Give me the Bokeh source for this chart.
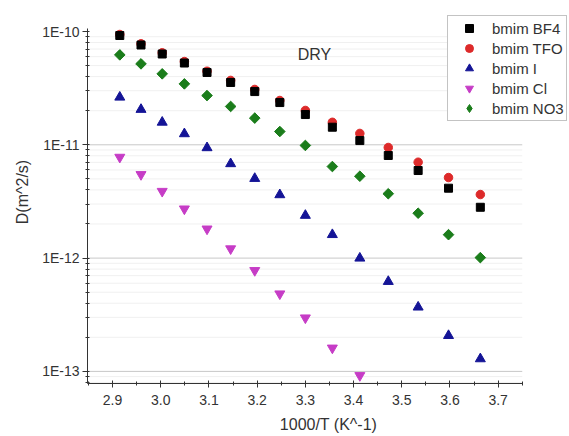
import math
from bokeh.plotting import figure
from bokeh.models import (Range1d, FixedTicker, CustomJSTickFormatter, Legend,
                          LegendItem, Label, PrintfTickFormatter)
from bokeh.embed import file_html
from bokeh.resources import INLINE

# ---- data ----
inv_t = [2.915, 2.959, 3.003, 3.049, 3.096, 3.145, 3.195, 3.247,
         3.300, 3.356, 3.413, 3.472, 3.534, 3.597, 3.663]
inv_t_cl = [2.915, 2.959, 3.003, 3.049, 3.096, 3.145, 3.195, 3.247,
            3.300, 3.356, 3.413]

d_bf4 = [9.22e-11, 7.60e-11, 6.33e-11, 5.27e-11, 4.35e-11, 3.55e-11, 2.95e-11,
         2.36e-11, 1.85e-11, 1.43e-11, 1.09e-11, 8.05e-12, 5.93e-12, 4.14e-12,
         2.81e-12]
d_tfo = [9.41e-11, 7.79e-11, 6.49e-11, 5.43e-11, 4.46e-11, 3.70e-11, 3.08e-11,
         2.46e-11, 2.01e-11, 1.58e-11, 1.26e-11, 9.47e-12, 7.02e-12, 5.14e-12,
         3.64e-12]
d_i = [2.63e-11, 2.05e-11, 1.58e-11, 1.25e-11, 9.41e-12, 6.80e-12, 5.04e-12,
       3.62e-12, 2.38e-12, 1.61e-12, 9.98e-13, 6.21e-13, 3.69e-13, 2.07e-13,
       1.29e-13]
d_cl = [7.78e-12, 5.47e-12, 3.89e-12, 2.72e-12, 1.81e-12, 1.21e-12, 7.78e-13,
        4.84e-13, 2.97e-13, 1.61e-13, 9.20e-14]
d_no3 = [6.22e-11, 5.18e-11, 4.23e-11, 3.45e-11, 2.72e-11, 2.18e-11, 1.72e-11,
         1.31e-11, 9.87e-12, 6.43e-12, 5.28e-12, 3.70e-12, 2.49e-12, 1.61e-12,
         1.01e-12]

series_names = ["bmim BF4", "bmim TFO", "bmim I", "bmim Cl", "bmim NO3"]

x_ticks = [2.9, 3.0, 3.1, 3.2, 3.3, 3.4, 3.5, 3.6, 3.7]
x_minor = [2.85, 2.95, 3.05, 3.15, 3.25, 3.35, 3.45, 3.55, 3.65, 3.75]
y_ticks = [1e-13, 1e-12, 1e-11, 1e-10]
y_minor = [m * 10.0 ** e for e in (-14, -13, -12, -11) for m in range(2, 10)
           if m * 10.0 ** e > 7.9e-14]
grid_y = [1e-13, 1e-12, 1e-11]

# axis extents (data units); the frame is extended to the right/top so
# that the legend is not clipped, while axes and grid stop at these bounds
X_LO, X_HI = 2.848, 3.75
Y_LO, Y_HI = 7.82e-14, 1.063e-10

p = figure(width=569, height=436, y_axis_type="log",
           x_range=Range1d(X_LO, 3.848), y_range=Range1d(Y_LO, 1.878e-10),
           output_backend="svg", toolbar_location=None,
           min_border_left=87, min_border_right=0, min_border_top=0,
           min_border_bottom=53)
p.outline_line_color = None
p.background_fill_color = "white"
p.border_fill_color = "white"
p.xgrid.visible = False
p.ygrid.visible = False

font = "Liberation Sans"

# grid lines at the tick values, limited to the axis extent
p.segment(x0=[X_LO] * len(y_minor), y0=y_minor, x1=[X_HI] * len(y_minor),
          y1=y_minor, line_color="#f0f0f0", line_width=1)
p.segment(x0=[X_LO] * len(grid_y), y0=grid_y, x1=[X_HI] * len(grid_y),
          y1=grid_y, line_color="#c8c8c8", line_width=1)

# x axis
p.xaxis.ticker = FixedTicker(ticks=x_ticks, minor_ticks=x_minor)
p.xaxis.formatter = PrintfTickFormatter(format="%.1f")
p.xaxis.bounds = (X_LO, X_HI)
p.xaxis.axis_label = "1000/T (K^-1)"
p.xaxis.major_tick_in = 3
p.xaxis.major_tick_out = 4
p.xaxis.minor_tick_in = 2
p.xaxis.minor_tick_out = 2
p.xaxis.major_label_standoff = 7
p.xaxis.axis_label_standoff = 8

# y axis
p.yaxis.ticker = FixedTicker(ticks=y_ticks, minor_ticks=y_minor)
p.yaxis.bounds = (Y_LO, Y_HI)
p.yaxis.formatter = CustomJSTickFormatter(
    code="return '1E' + Math.round(Math.log10(tick));")
p.yaxis.axis_label = "D(m^2/s)"
p.yaxis.major_tick_in = 2
p.yaxis.major_tick_out = 5
p.yaxis.minor_tick_in = 2
p.yaxis.minor_tick_out = 2
p.yaxis.major_label_standoff = 3
p.yaxis.axis_label_standoff = 8

for ax in (p.xaxis[0], p.yaxis[0]):
    ax.axis_line_color = "#333333"
    ax.major_tick_line_color = "#333333"
    ax.minor_tick_line_color = "#333333"
    ax.major_label_text_font = font
    ax.major_label_text_font_size = "14px"
    ax.major_label_text_color = "#333333"
    ax.axis_label_text_font = font
    ax.axis_label_text_font_size = "16px"
    ax.axis_label_text_font_style = "normal"
    ax.axis_label_text_color = "#333333"

# ---- series ----
green = "#1b7d1b"
r_tfo = p.scatter(inv_t, d_tfo, marker="circle", size=8.5,
                  fill_color="#dd2a2a", line_color="#dd2a2a")
r_bf4 = p.scatter(inv_t, d_bf4, marker="square", size=8,
                  fill_color="#000000", line_color="#000000")
# diamond glyph (used as the legend key), covered by the rotated squares
r_no3_key = p.scatter(inv_t, d_no3, marker="diamond", size=9,
                      fill_color=green, line_color=green)
r_no3 = p.scatter(inv_t, d_no3, marker="square", angle=math.pi / 4, size=7.5,
                  fill_color=green, line_color=green)
r_i = p.scatter(inv_t, d_i, marker="triangle", size=10,
                fill_color="#141496", line_color="#141496")
r_cl = p.scatter(inv_t_cl, d_cl, marker="inverted_triangle", size=10,
                 fill_color="#c63cc6", line_color="#c63cc6")

legend = Legend(items=[
    LegendItem(label=series_names[0], renderers=[r_bf4]),
    LegendItem(label=series_names[1], renderers=[r_tfo]),
    LegendItem(label=series_names[2], renderers=[r_i]),
    LegendItem(label=series_names[3], renderers=[r_cl]),
    LegendItem(label=series_names[4], renderers=[r_no3_key]),
], location=(360, 262))
legend.padding = 2
legend.spacing = 0
legend.margin = 0
legend.glyph_width = 38
legend.glyph_height = 20
legend.label_height = 20
legend.label_standoff = 4
legend.label_text_font = font
legend.label_text_font_size = "15px"
legend.label_text_color = "#333333"
legend.border_line_color = "#888888"
legend.border_line_width = 1
legend.background_fill_alpha = 1
p.add_layout(legend)

p.add_layout(Label(x=3.319, y=6.27e-11, text="DRY", text_align="center",
                   text_baseline="middle", text_font=font,
                   text_font_size="16px", text_color="#333333"))

open("out.html", "w").write(file_html(p, INLINE))
